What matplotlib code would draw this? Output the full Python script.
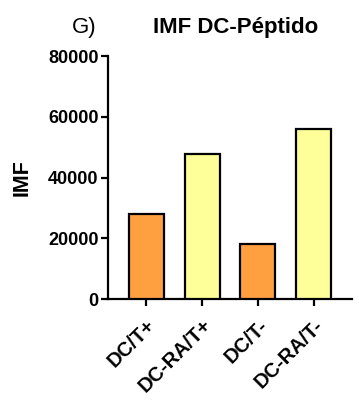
import matplotlib.pyplot as plt

plt.rcParams['font.family'] = ['Liberation Sans', 'DejaVu Sans']

groups = ['DC/T+', 'DC-RA/T+', 'DC/T-', 'DC-RA/T-']
imf = [28000, 47600, 18200, 56000]
bar_colors = ['#FFA040', '#FFFF99', '#FFA040', '#FFFF99']

fig = plt.figure(figsize=(3.59, 4.03), dpi=100)
ax = fig.add_axes([0.302, 0.258, 0.679, 0.603])

x = range(len(groups))
ax.bar(x, imf, width=0.625, color=bar_colors, edgecolor='black', linewidth=1.6, zorder=3)

ax.set_xlim(-0.673, 3.684)
ax.set_ylim(0, 80000)
ax.set_yticks([0, 20000, 40000, 60000, 80000])
ax.set_xticks(list(x))
ax.set_xticklabels(groups, rotation=45, ha='right', rotation_mode='anchor',
                   fontsize=14.5, fontweight='bold')
for lab in ax.get_yticklabels():
    lab.set_fontweight('bold')
    lab.set_fontsize(13)

for s in ['top', 'right']:
    ax.spines[s].set_visible(False)
for s in ['left', 'bottom']:
    ax.spines[s].set_linewidth(1.6)
ax.tick_params(width=1.6, length=5, pad=2)
ax.tick_params(axis='x', pad=7)

ax.set_ylabel('IMF', fontsize=15.5, fontweight='bold', labelpad=11)

fig.text(0.235, 0.932, 'G)', fontsize=16, ha='center', va='center')
fig.text(0.657, 0.932, 'IMF DC-Péptido', fontsize=16, fontweight='bold',
         ha='center', va='center')

fig.savefig('out.png', dpi=100)
